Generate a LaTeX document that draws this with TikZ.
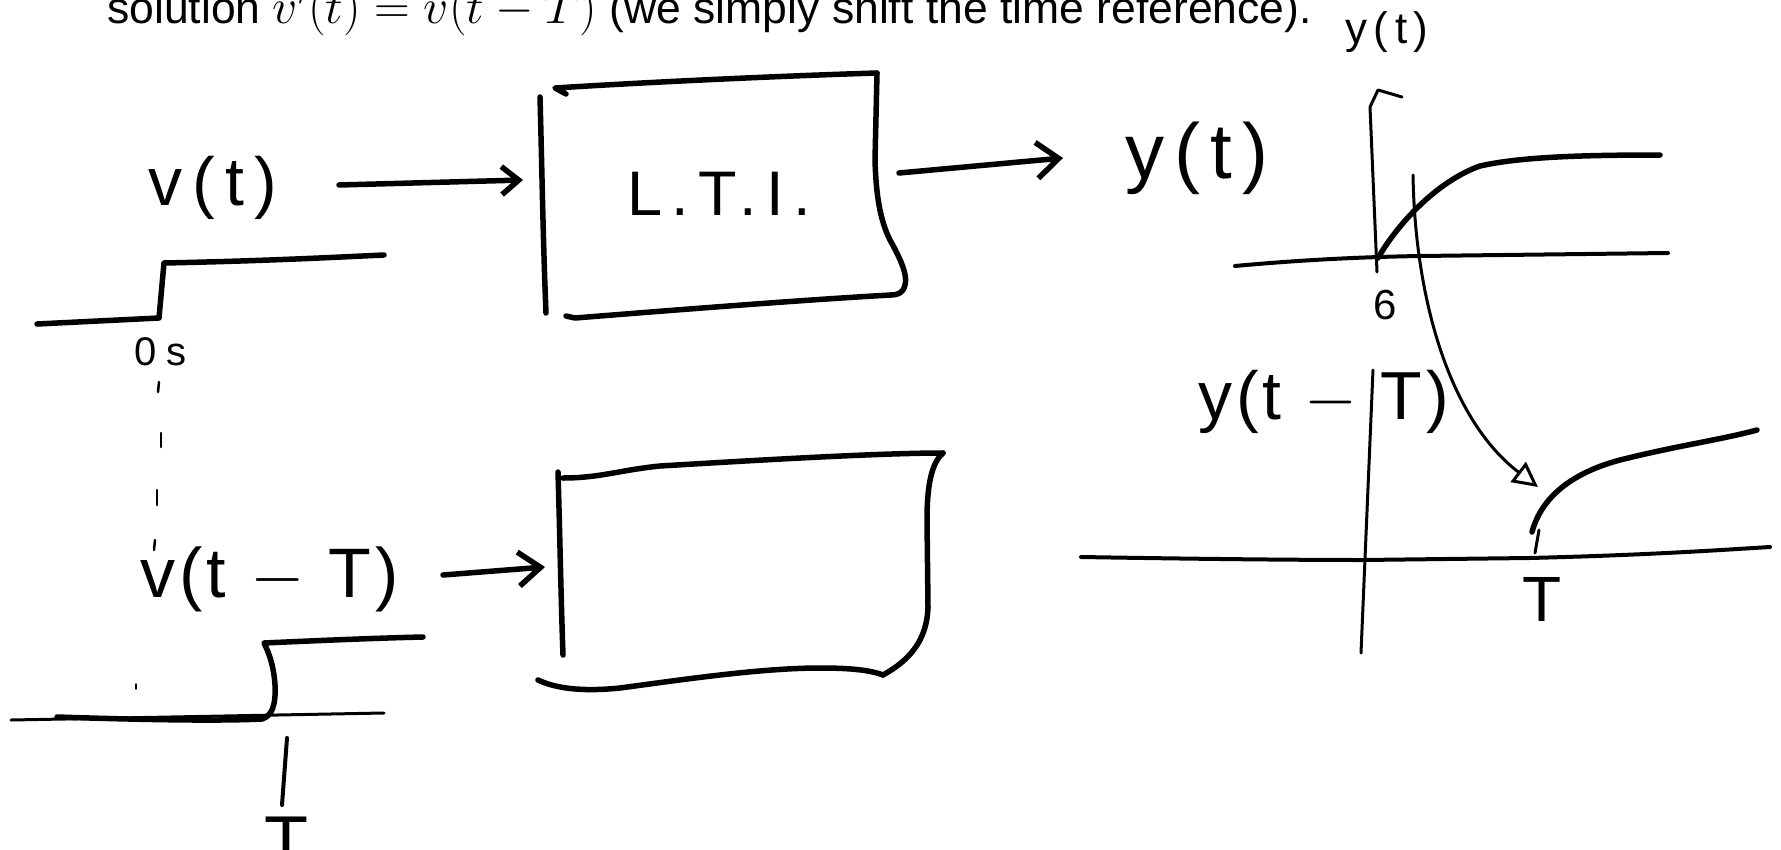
\RequirePackage{fix-cm}
\documentclass[tikz,border=0pt]{standalone}
\usepackage{fontspec}
\setmainfont{Liberation Sans}
\newfontfamily\handfont{Liberation Sans}
\usetikzlibrary{arrows.meta}
\newcommand{\hsz}[1]{\fontsize{#1}{#1}\selectfont}
\newcommand{\hand}[2]{\handfont\addfontfeature{LetterSpace=#1}\hsz{#2}}
\begin{document}
\begin{tikzpicture}[x=1pt,y=-1pt,
  ink/.style={line width=5.5pt,line cap=round,line join=round},
  mid/.style={line width=4pt,line cap=round,line join=round},
  fine/.style={line width=3pt,line cap=round,line join=round},
  lbl/.style={inner sep=0pt}]
\clip (0,0) rectangle (1781,849);
\fill[white] (0,0) rectangle (1781,849);

% caption
\node[anchor=base west,inner sep=0pt,font={\hsz{44.5}}] (caption) at (107,23)
  {solution {\hsz{49.5}$v'(t)=v(t-T)$} (we simply shift the time reference).};

% labels
\node[lbl,anchor=base west,font={\hand{15}{68}}] (vt) at (148,205) {v(t)};
\node[lbl,anchor=base west,font={\hand{25}{40}}] (zero) at (134,365) {0s};
\node[lbl,anchor=base west,font={\hand{15}{63}}] (lti) at (627,215) {L.T.I.};
\node[lbl,anchor=base west,font={\hand{13}{78}}] (yt) at (1125,178) {y(t)};
\node[lbl,anchor=base west,font={\hand{15}{44}}] (ytsmall) at (1345,43) {y(t)};
\node[lbl,font={\hand{0}{42}}] (six) at (1385,305) {6};
\node[lbl,anchor=base west,font={\hand{6}{70}}] (vtT) at (140,597) {v(t $-$ T)};
\node[lbl,anchor=base west,font={\hand{6}{68}}] (ytT) at (1198,419) {y(t $-$ T)};
\node[lbl,anchor=north,font={\hand{0}{64}}] (Tr) at (1542,577) {T};
\node[lbl,anchor=north,font={\hand{0}{72}}] (Tb) at (286,817) {T};

% upper step input
\draw[ink] (37,324) -- (159,318) -- (164,263) .. controls (260,261) and (320,258) .. (384,255);

% dashed guide
\draw[line width=2.5pt,line cap=round] (159,382) -- (158,392);
\draw[line width=2.5pt,line cap=round] (161,433) -- (161,447);
\draw[line width=2.5pt,line cap=round] (157,490) -- (157,505);
\draw[line width=2.5pt,line cap=round] (155,540) -- (154,550);
\draw[line width=1.5pt,line cap=round] (136,684) -- (136,689);

% LTI box
\draw[ink] (540,97) .. controls (542,170) and (543,240) .. (546,313);
\draw[ink] (566,94) -- (555,88) .. controls (650,82) and (780,76) .. (877,73);
\draw[ink] (877,73) -- (875,160) .. controls (876,195) and (880,220) .. (890,240)
  .. controls (900,258) and (908,275) .. (905,285) .. controls (903,293) and (898,295) .. (891,295);
\draw[ink] (891,295) .. controls (800,300) and (650,312) .. (575,318) -- (566,316);

% second box
\draw[ink] (558,472) .. controls (560,540) and (561,600) .. (563,655);
\draw[ink] (563,478) .. controls (600,478) and (620,470) .. (660,466)
  .. controls (760,460) and (880,453) .. (943,453);
\draw[ink] (943,453) .. controls (933,462) and (927,480) .. (927,520) -- (928,607)
  .. controls (927,640) and (910,660) .. (883,675);
\draw[ink] (883,675) .. controls (870,670) and (850,668) .. (820,668)
  .. controls (760,668) and (680,680) .. (620,688) .. controls (580,692) and (555,688) .. (538,680);

% arrows
\coordinate (a1s) at (339,185); \coordinate (a1e) at (523,180);
\draw[ink,-{Straight Barb[length=17pt,width=28pt]}] (a1s) -- (a1e);
\coordinate (a2s) at (899,173); \coordinate (a2e) at (1063,158);
\draw[ink,-{Straight Barb[length=22pt,width=36pt]}] (a2s) -- (a2e);
\coordinate (a3s) at (443,575); \coordinate (a3e) at (545,567);
\draw[ink,-{Straight Barb[length=22pt,width=34pt]}] (a3s) -- (a3e);

% upper right plot
\draw[mid] (1235,266) .. controls (1300,260) and (1360,257) .. (1420,256) -- (1668,253);
\draw[fine] (1377,272) -- (1370,107) -- (1378,90) -- (1402,97);
\draw[ink] (1378,258) .. controls (1400,220) and (1440,180) .. (1480,166)
  .. controls (1520,157) and (1580,155) .. (1660,155);
\coordinate (cs) at (1413,175); \coordinate (ce) at (1538,487);
\draw[fine,-{Triangle[open,length=25pt,width=25pt]}] (cs) .. controls (1415,300) and (1450,420) .. (ce);

% lower right plot
\draw[mid] (1081,557) .. controls (1200,559) and (1300,560) .. (1363,560) -- (1529,558)
  .. controls (1650,555) and (1720,550) .. (1770,547);
\draw[fine] (1373,370) -- (1361,653);
\draw[ink] (1532,532) .. controls (1542,495) and (1575,472) .. (1620,460)
  .. controls (1680,445) and (1720,440) .. (1757,430);
\draw[fine] (1539,530) -- (1535,553);

% lower left step
\draw[fine] (11,720) -- (384,713);
\draw[ink] (57,717) .. controls (150,720) and (220,721) .. (262,719)
  .. controls (272,716) and (276,705) .. (275,685) .. controls (274,668) and (270,655) .. (264,643)
  .. controls (330,640) and (380,638) .. (423,637);
\draw[mid] (287,738) -- (282,805);
\end{tikzpicture}
\end{document}
